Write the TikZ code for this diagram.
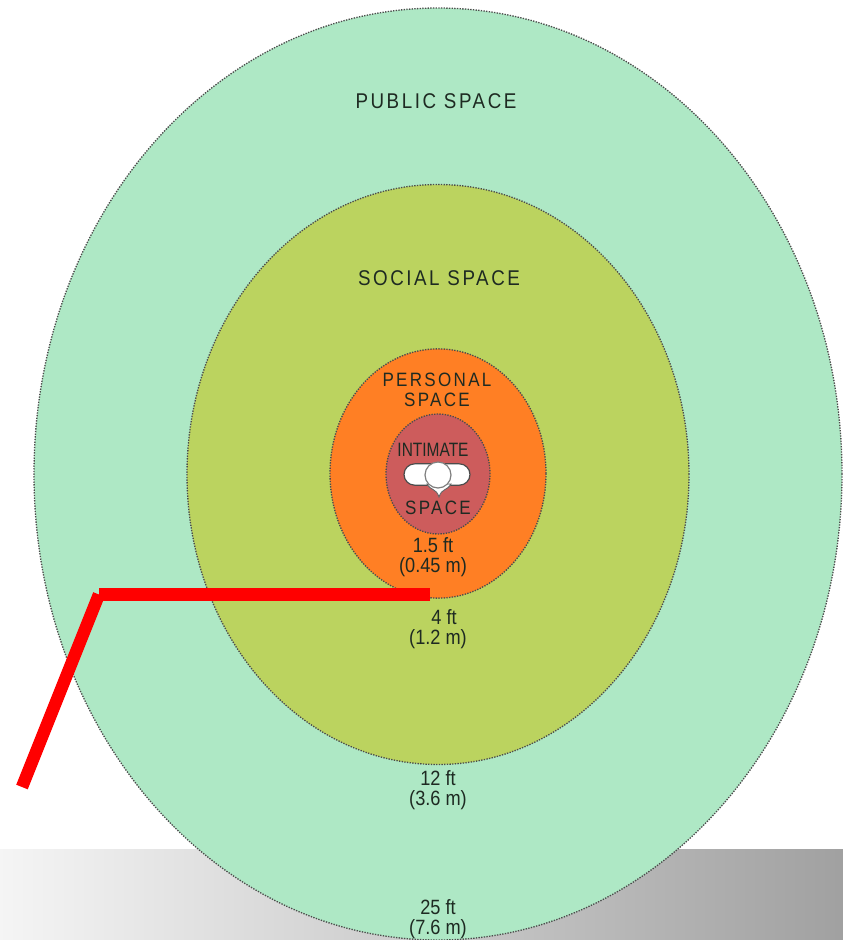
\documentclass[tikz,border=0pt]{standalone}
\usepackage{fontspec}
\setmainfont{Liberation Sans}
\newfontfamily\spacedfont[LetterSpace=12,FakeStretch=0.88]{Liberation Sans}
\newfontfamily\narrowfont[FakeStretch=0.88]{Liberation Sans}
\newfontfamily\tightfont[FakeStretch=0.8]{Liberation Sans}
\usepackage{tikz}
\usetikzlibrary{shapes.geometric,shapes.misc}
\definecolor{publicgreen}{HTML}{AEE8C5}
\definecolor{socialgreen}{HTML}{BBD35F}
\definecolor{personalorange}{HTML}{FF7F24}
\definecolor{intimatered}{HTML}{CD5C5C}
\definecolor{inktext}{HTML}{1E2A22}

\begin{document}
\begin{tikzpicture}[
  x=0.75pt, y=-0.75pt,
  zone/.style={ellipse, draw=black!70, densely dotted, line width=1pt, inner sep=0pt},
  zonelabel/.style={text=inktext, font=\spacedfont\fontsize{16}{15}\selectfont, align=center},
  smallzonelabel/.style={zonelabel, font=\spacedfont\fontsize{14.5}{15}\selectfont},
  distlabel/.style={text=inktext, font=\narrowfont\fontsize{15.5}{15}\selectfont, align=center},
  figpart/.style={draw=black!70, fill=white, line width=0.9pt, inner sep=0pt},
  redline/.style={draw=red, line width=9.3pt},
]
\useasboundingbox (0,0) rectangle (843,940);
% Floor band
\shade[left color=black!4, right color=black!37] (0,849) rectangle (843,940);

% Zones
\node[zone, fill=publicgreen, minimum width=606pt, minimum height=699pt] (public) at (438,474) {};
\node[zone, fill=socialgreen, minimum width=376.5pt, minimum height=435pt] (social) at (438,474.5) {};
\node[zone, fill=personalorange, minimum width=162pt, minimum height=187pt] (personal) at (438,473.5) {};
\node[zone, fill=intimatered, minimum width=78pt, minimum height=90pt] (intimate) at (438,474) {};

% Person seen from above
\node[figpart, rounded rectangle, minimum width=49.5pt, minimum height=16pt] (shoulders) at (437,474.5) {};
\fill[white, draw=black!60, line width=0.7pt] (427,484) .. controls (431,491) and (436,488) .. (439,497) .. controls (442,488) and (447,491) .. (451,484) -- cycle;
\node[figpart, draw=black!50, circle, minimum size=19.5pt] (head) at (438,475) {};

% Labels
\node[zonelabel] (publiclabel) at (436,101) {PUBLIC SPACE};
\node[zonelabel] (sociallabel) at (439,278) {SOCIAL SPACE};
\node[smallzonelabel] (personallabel) at (437,390) {PERSONAL\\SPACE};
\node[zonelabel, font=\tightfont\fontsize{14.5}{15}\selectfont] (intimatelabel) at (433,450) {INTIMATE};
\node[smallzonelabel] (spacelabel) at (438,508) {SPACE};
\node[distlabel] (dista) at (433,557.5) {1.5 ft\\(0.45 m)};
\node[distlabel] (distb) at (438,629) {\hspace*{9pt}4 ft\\(1.2 m)};
\node[distlabel] (distc) at (438,790) {12 ft\\(3.6 m)};
\node[distlabel] (distd) at (438,919.5) {25 ft\\(7.6 m)};

% Red pointer
\coordinate (tip) at (430,594.5);
\coordinate (bend) at (99,594.5);
\coordinate (tail) at (22,787);
\draw[redline] (tip) -- (bend);
\draw[redline] (bend) -- (tail);
\end{tikzpicture}
\end{document}
